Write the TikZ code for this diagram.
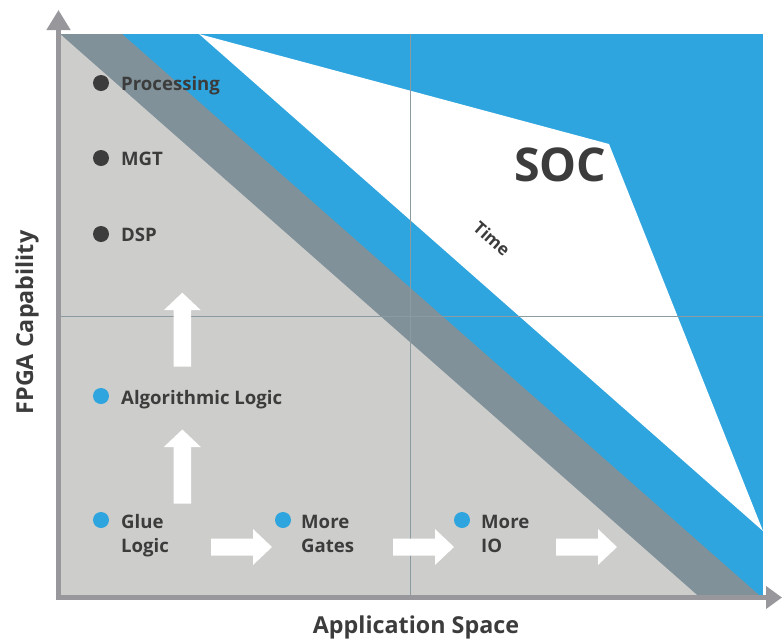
\documentclass[tikz,border=0pt]{standalone}
\usepackage{fontspec}
\setmainfont{Open Sans}
\usetikzlibrary{arrows.meta}

\definecolor{socblue}{HTML}{2EA5DE}
\definecolor{bandgray}{HTML}{80919A}
\definecolor{areagray}{HTML}{CDCDCB}
\definecolor{gridgray}{HTML}{8C9BA2}
\definecolor{axisgray}{HTML}{98989C}
\definecolor{txtgray}{HTML}{3C3C3C}

\begin{document}
\begin{tikzpicture}[x=1pt, y=-1pt,
  lbl/.style={font=\fontsize{18.6}{24.4}\selectfont\bfseries, text=txtgray,
              anchor=base west, inner sep=0pt, align=left},
  axislbl/.style={font=\fontsize{23.3}{26}\selectfont\bfseries, text=txtgray,
              anchor=base, inner sep=0pt},
  dot/.style={circle, inner sep=0pt, minimum size=16pt},
  Ddot/.style={dot, fill=txtgray},
  Bdot/.style={dot, fill=socblue},
  axis/.style={line width=4.5pt, draw=axisgray,
               {Triangle[length=20pt,width=23pt]}-{Triangle[length=16pt,width=22pt]}},
  gridline/.style={line width=1.2pt, draw=gridgray},
  fatup/.pic={\fill[white] (0,0) -- (18.5,17.5) -- (8.7,17.5) -- (8.7,74)
                -- (-8.7,74) -- (-8.7,17.5) -- (-18.5,17.5) -- cycle;},
  fatright/.pic={\fill[white] (0,0) -- (-19,-18) -- (-19,-8.5) -- (-61,-8.5)
                -- (-61,8.5) -- (-19,8.5) -- (-19,18) -- cycle;}
]
\useasboundingbox (0,0) rectangle (782,638);

% plot area: blue, white wedge, gray band, light area
\fill[socblue] (60,34) rectangle (763,595);
\fill[white] (199,34) -- (609,144) -- (763,531) -- cycle;
\fill[bandgray] (60,34) -- (122,34) -- (759,595) -- (60,595) -- cycle;
\fill[areagray] (60,34) -- (697,595) -- (60,595) -- cycle;

% quadrant lines
\draw[gridline] (410.5,34) -- (410.5,595);
\draw[gridline] (60,316.5) -- (763,316.5);

% axes
\coordinate (ytop) at (58.5,10);
\coordinate (xend) at (782,597.5);
\draw[axis] (ytop) |- (xend);
\node[axislbl, rotate=90] (ylbl) at (33,322.5) {FPGA Capability};
\node[axislbl] (xlbl) at (416,633.5) {Application Space};

% capabilities
\node[Ddot] (dproc) at (101,83) {};
\node[lbl] (proc) at (121,90.7) {Processing};
\node[Ddot] (dmgt) at (101,158) {};
\node[lbl] (mgt) at (121,165.5) {MGT};
\node[Ddot] (ddsp) at (101,234) {};
\node[lbl] (dsp) at (121,241.5) {DSP};

\node[Bdot] (dalg) at (101,396) {};
\node[lbl] (alg) at (121,404) {Algorithmic Logic};
\node[Bdot] (dglue) at (101,520) {};
\node[lbl] (glue) at (121,552.7) {Glue\\Logic};
\node[Bdot] (dgates) at (283,520) {};
\node[lbl] (gates) at (301,552.7) {More\\Gates};
\node[Bdot] (dio) at (462,520) {};
\node[lbl] (io) at (481,552.7) {More\\IO};

% growth arrows
\pic at (182.3,292.7) {fatup};
\pic at (182.3,429.5) {fatup};
\pic at (272,547) {fatright};
\pic at (454,547) {fatright};
\pic at (617,547) {fatright};

% SOC wedge
\node[font=\fontsize{46.5}{50}\selectfont\bfseries, text=txtgray,
      anchor=base west, inner sep=0pt] (soc) at (514,181.7) {SOC};
\node[font=\fontsize{17}{20}\selectfont\bfseries, text=txtgray,
      rotate=-41.4, inner sep=0pt] (time) at (492,239) {Time};
\end{tikzpicture}
\end{document}
